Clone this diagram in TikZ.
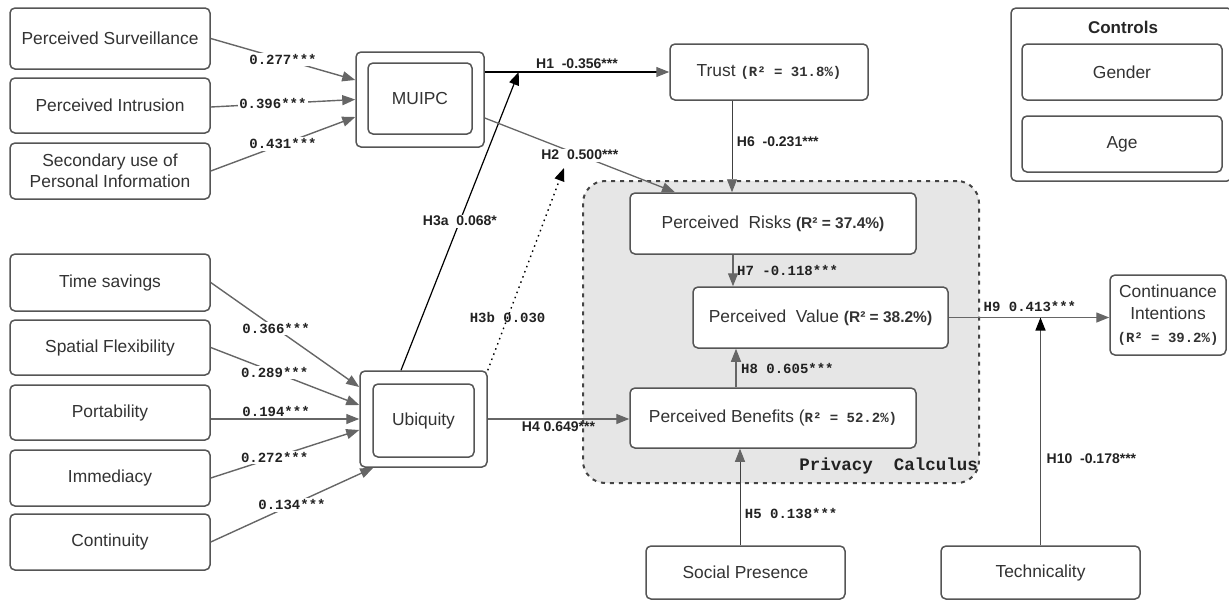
\documentclass[tikz,border=0pt]{standalone}
\usepackage{fontspec}
\setmainfont{Liberation Sans}
\setmonofont{Liberation Mono}
\usetikzlibrary{arrows.meta,calc}
\definecolor{bordc}{HTML}{555555}
\definecolor{arrc}{HTML}{666666}
\definecolor{txtc}{HTML}{333333}
\definecolor{labc}{HTML}{222222}
\definecolor{regfill}{HTML}{E6E6E6}
\tikzset{
  box/.style={draw=bordc, line width=1.5pt, rounded corners=5pt, fill=white,
    minimum width=200pt, inner sep=0pt, align=center, text=txtc,
    font=\fontsize{17.4}{21}\selectfont},
  region/.style={draw=bordc!80!black, line width=2pt, dash pattern=on 4pt off 5pt,
    rounded corners=22pt, fill=regfill, minimum width=396pt, minimum height=302pt},
  arr/.style={draw=arrc, line width=1.4pt, -{Triangle[length=13pt,width=10pt]}},
  darr/.style={draw=black!75, line width=0.9pt, -{Triangle[length=13pt,width=10pt,color=arrc]}},
  barr/.style={draw=black, line width=1.2pt, -{Triangle[length=13pt,width=10pt,color=black]}},
  mlab/.style={font=\fontsize{14}{16}\selectfont\ttfamily\bfseries, text=labc, inner sep=1.5pt},
  slab/.style={font=\fontsize{14}{16}\selectfont\bfseries, text=labc, inner sep=1.5pt},
}
\newcommand{\mR}[1]{{\fontsize{14}{16}\selectfont\ttfamily\bfseries #1}}
\newcommand{\sR}[1]{{\fontsize{15.5}{16}\selectfont\bfseries #1}}
\begin{document}
\begin{tikzpicture}[x=1pt,y=-1pt]
\useasboundingbox (0,0) rectangle (1229,600);

% privacy calculus region
\node[region] (pc) at (781,332) {};
\node[font=\fontsize{17.5}{20}\selectfont\ttfamily\bfseries, text=labc, anchor=east, inner sep=1pt] (pclab) at (979,466) {Privacy\ \ Calculus};

% left column
\node[box, minimum height=61pt] (ps) at (110,38.5) {Perceived Surveillance};
\node[box, minimum height=55pt] (pi) at (110,105.5) {Perceived Intrusion};
\node[box, minimum height=56pt] (su) at (110,171) {Secondary use of\\Personal Information};
\node[box, minimum height=57pt] (ts) at (110,282.5) {Time savings};
\node[box, minimum height=55pt] (sf) at (110,347.5) {Spatial Flexibility};
\node[box, minimum height=55pt] (port) at (110,412.5) {Portability};
\node[box, minimum height=56pt] (imm) at (110,478) {Immediacy};
\node[box, minimum height=56pt] (cont) at (110,542) {Continuity};

% MUIPC and Ubiquity
\node[box, minimum width=128pt, minimum height=95pt] (muipc) at (420,99.5) {};
\node[box, minimum width=104pt, minimum height=71pt] (muipcin) at (420,98.5) {MUIPC};
\node[box, minimum width=127pt, minimum height=96pt] (ubi) at (423.5,419) {};
\node[box, minimum width=101pt, minimum height=73pt] (ubiin) at (423.5,420.5) {Ubiquity};

% right part
\node[box, minimum width=198pt, minimum height=56pt] (trust) at (769,72) {Trust \mR{(R² = 31.8\%)}};
\node[box, minimum width=286pt, minimum height=61pt] (pr) at (773,223.5) {Perceived\ \ Risks \sR{(R² = 37.4\%)}};
\node[box, minimum width=255pt, minimum height=61pt] (pv) at (820.5,317.5) {Perceived\ \ Value \sR{(R² = 38.2\%)}};
\node[box, minimum width=286pt, minimum height=60pt] (pb) at (773,418) {Perceived Benefits (\mR{R² = 52.2\%)}};
\node[box, minimum width=116pt, minimum height=80pt, font=\fontsize{17.4}{22.5}\selectfont] (ci) at (1168,315) {Continuance\\Intentions\\\mR{(R² = 39.2\%)}};
\node[box, minimum width=199pt, minimum height=53pt] (sp) at (745.5,572.5) {Social Presence};
\node[box, minimum width=199pt, minimum height=53pt] (tech) at (1040.5,572.5) {Technicality};

% controls
\node[box, minimum width=221pt, minimum height=173pt] (ctl) at (1121.5,94.5) {};
\node[font=\fontsize{17}{20}\selectfont\bfseries, text=black!85] (ctltitle) at (1123,27) {Controls};
\node[box, minimum width=200pt, minimum height=56pt] (gender) at (1122,72) {Gender};
\node[box, minimum width=200pt, minimum height=56pt] (age) at (1122,144) {Age};

% formative arrows into MUIPC
\draw[arr] (ps.east) -- ([yshift=19.5pt]muipc.west) node[mlab, fill=white, pos=0.5] {0.277***};
\draw[arr] ([yshift=-1.5pt]pi.east) -- (muipc.west) node[mlab, fill=white, pos=0.43] {0.396***};
\draw[arr] (su.east) -- ([yshift=-17.5pt]muipc.west) node[mlab, fill=white, pos=0.5] {0.431***};

% formative arrows into Ubiquity
\draw[arr] (ts.east) -- ([yshift=32pt]ubi.west) node[mlab, fill=white, pos=0.44] {0.366***};
\draw[arr] (sf.east) -- ([yshift=14pt]ubi.west) node[mlab, fill=white, pos=0.43] {0.289***};
\draw[arr] (port.east |- ubi.west) -- (ubi.west) node[mlab, above, pos=0.44] {0.194***};
\draw[arr] (imm.east) -- ([yshift=-11pt]ubi.west) node[mlab, fill=white, pos=0.43] {0.272***};
\draw[arr] (cont.east) -- ([xshift=14pt]ubi.south west) node[mlab, fill=white, pos=0.5] {0.134***};

% structural paths
\draw[black, line width=1.1pt, -{Triangle[length=13pt,width=10pt,color=arrc]}] (muipc.east |- trust.west) -- (trust.west)
  node[slab, above, pos=0.5, yshift=1pt] {H1~ -0.356***};
\coordinate (h3atip) at ($(muipc.east |- trust.west)+(34,0)$);
\draw[barr] ([xshift=-22.5pt]ubi.north) -- (h3atip) node[slab, fill=white, pos=0.5] {H3a~ 0.068*};
\draw[arr, line width=1.3pt] ([yshift=-18.5pt]muipc.east) -- ([xshift=-98pt]pr.north)
  node[slab, fill=white, pos=0.5] (h2lab) {H2~ 0.500***};
\coordinate (h3btip) at (564,168);
\draw[black, line width=1.4pt, dash pattern=on 1.5pt off 4pt, -{Triangle[length=13pt,width=10pt,color=black]}] (ubi.north east) -- (h3btip)
  node[mlab, pos=0.26] {H3b 0.030};
\draw[arr] (ubi.east) -- (ubi.east -| pb.west) node[slab, below, pos=0.5, yshift=-1pt] {H4 0.649***};
\draw[darr] ([xshift=-37pt]trust.south) -- ([xshift=-37pt]trust.south |- pr.north)
  node[slab, right, pos=0.45, xshift=3pt] {H6~ -0.231***};
\draw[arr] ([xshift=-40pt]pr.south) -- ([xshift=-40pt]pr.south |- pv.north)
  node[mlab, right, pos=0.5, xshift=2pt] {H7 -0.118***};
\draw[arr] ([xshift=-37pt]pb.north) -- ([xshift=-37pt]pb.north |- pv.south)
  node[mlab, right, pos=0.5, xshift=3pt] {H8 0.605***};
\draw[darr] ([xshift=-5.5pt]sp.north) -- ([xshift=-5.5pt]sp.north |- pb.south)
  node[mlab, right, pos=0.33, xshift=3pt] {H5 0.138***};
\draw[arr] (pv.east) -- (pv.east -| ci.west);
\node[mlab, anchor=west] (h9lab) at (982,307) {H9 0.413***};
\draw[draw=arrc!80!black, line width=1.4pt, -{Triangle[length=13pt,width=10pt,color=black]}] (tech.north) -- (tech.north |- pv.east)
  node[slab, right, pos=0.38, xshift=4pt] {H10~ -0.178***};
\end{tikzpicture}
\end{document}
